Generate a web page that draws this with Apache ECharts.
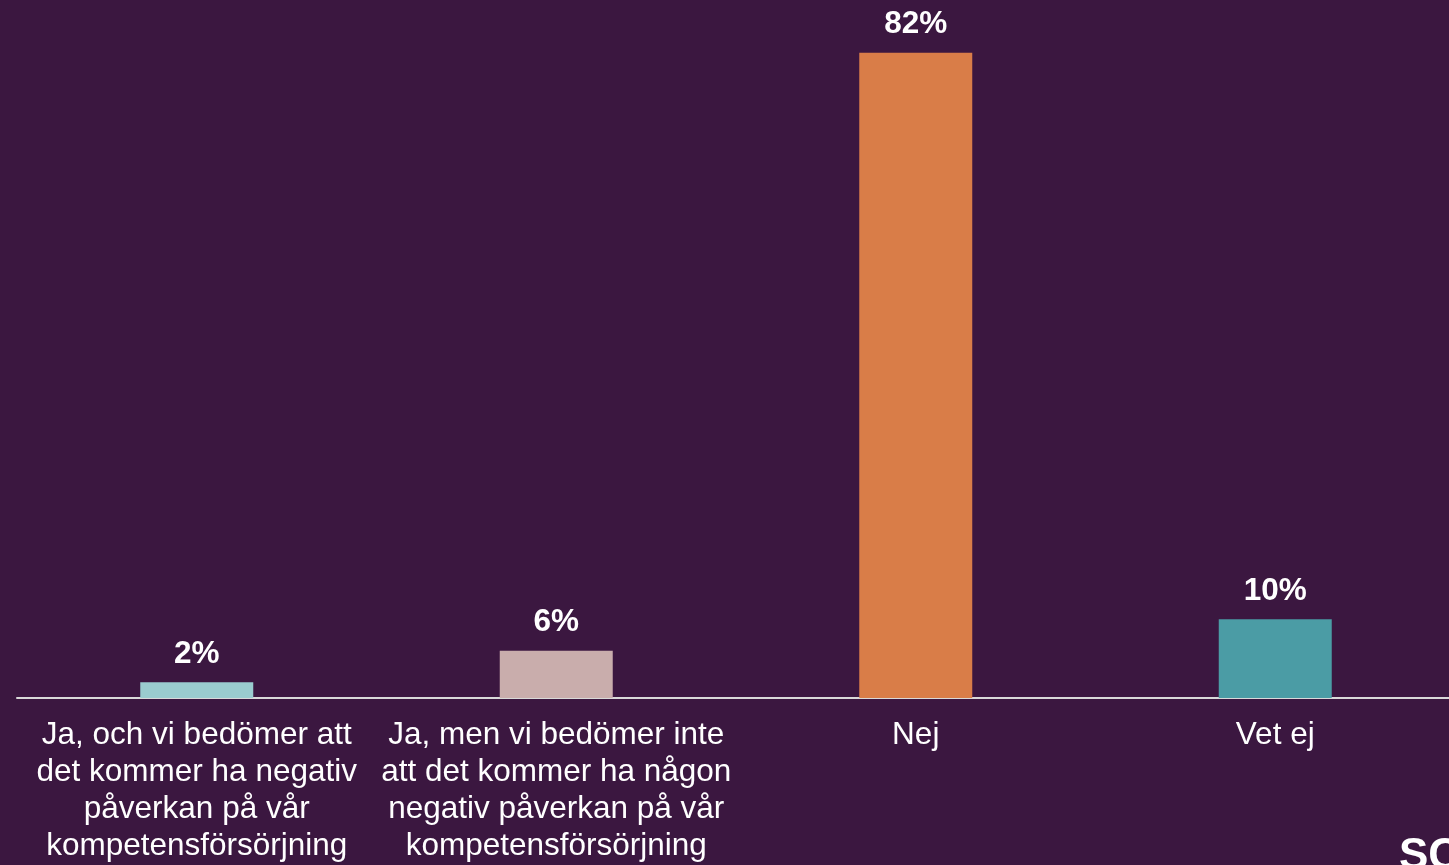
<!DOCTYPE html>
<html><head><meta charset="utf-8">
<script src="https://cdn.jsdelivr.net/npm/echarts@6/dist/echarts.min.js"></script>
<style>html,body{margin:0;padding:0;background:#3b1740;}#c{width:1449px;height:865px;}</style>
</head><body><div id="c"></div>
<script>
const categories = [
  "Ja, och vi bedömer att\ndet kommer ha negativ\npåverkan på vår\nkompetensförsörjning",
  "Ja, men vi bedömer inte\natt det kommer ha någon\nnegativ påverkan på vår\nkompetensförsörjning",
  "Nej",
  "Vet ej"
];
const values = [2, 6, 82, 10];
const barColors = ["#9acccf", "#c9adac", "#d97d48", "#4b9ca5"];

const chart = echarts.init(document.getElementById('c'));
chart.setOption({
  backgroundColor: '#3b1740',
  animation: false,
  grid: { left: 17, width: 1438, top: 0, bottom: 167, containLabel: false, outerBoundsMode: 'none' },
  xAxis: {
    type: 'category',
    data: categories,
    axisLine: { show: true, lineStyle: { color: '#d9d9d9', width: 2 } },
    axisTick: { show: false },
    axisLabel: {
      interval: 0, color: '#ffffff', fontSize: 31.5, lineHeight: 37,
      fontFamily: 'Liberation Sans, Arial, sans-serif', margin: 19, align: 'center'
    }
  },
  yAxis: { type: 'value', min: 0, max: 88.7, show: false, splitLine: { show: false } },
  series: [{
    type: 'bar',
    data: values.map((v, i) => ({ value: v, itemStyle: { color: barColors[i] } })),
    barWidth: 113,
    label: {
      show: true, position: 'top', distance: 12, formatter: '{c}%',
      color: '#ffffff', fontSize: 31.5, fontWeight: 'bold',
      fontFamily: 'Liberation Sans, Arial, sans-serif'
    }
  }],
  graphic: [{
    type: 'text', left: 1399, top: 835,
    style: { text: 'SC', fill: '#ffffff', fontSize: 44, fontWeight: 'bold', fontFamily: 'Liberation Sans, Arial, sans-serif' }
  }]
});
</script></body></html>
